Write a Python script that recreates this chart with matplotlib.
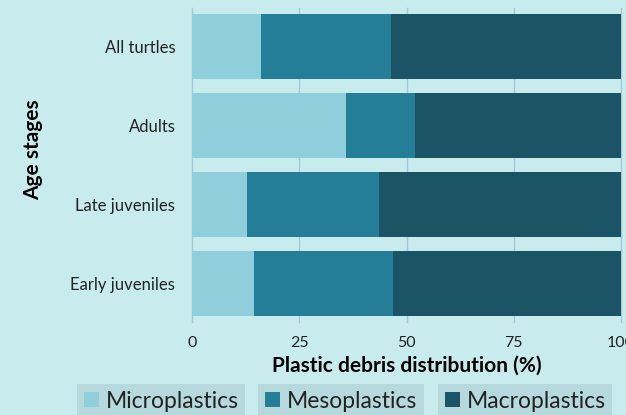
import matplotlib
matplotlib.use("Agg")
import matplotlib.pyplot as plt
from matplotlib.patches import Patch

categories = ["Early juveniles", "Late juveniles", "Adults", "All turtles"]
micro = [14.5, 12.9, 36.0, 16.1]
meso = [32.3, 30.7, 15.9, 30.4]
macro = [53.2, 56.4, 48.1, 53.5]
series_names = ["Microplastics", "Mesoplastics", "Macroplastics"]
colors = ["#8fcedb", "#257e97", "#1b5565"]
xticks = [0, 25, 50, 75, 100]

bg = "#c8ebee"
plt.rcParams['font.family'] = ['Lato', 'DejaVu Sans']

fig = plt.figure(figsize=(6.26, 4.15), dpi=100, facecolor=bg)
ax = fig.add_axes([192/626, 1-322/415, (621-192)/626, (322-8)/415])
ax.set_facecolor(bg)

y = list(range(len(categories)))
left = [0]*len(categories)
for vals, c, name in zip([micro, meso, macro], colors, series_names):
    ax.barh(y, vals, left=left, height=0.82, color=c, zorder=2, label=name)
    left = [l + v for l, v in zip(left, vals)]

for xt in xticks:
    ax.axvline(xt, color="#a6c6da", lw=1.0, zorder=1, clip_on=False)

ax.set_xlim(0, 100)
ax.set_ylim(-0.49, 3.49)
ax.set_xticks(xticks)
ax.set_xticklabels([str(v) for v in xticks])
ax.set_yticks(y)
ax.set_yticklabels(categories)
ax.tick_params(axis='x', length=0, pad=10, labelsize=11.5, labelcolor="#222222")
ax.tick_params(axis='y', length=0, pad=12, labelsize=12, labelcolor="#222222")
for s in ax.spines.values():
    s.set_visible(False)

ax.set_xlabel("Plastic debris distribution (%)", fontsize=15, fontweight='bold', labelpad=4)
fig.text(33/626, 1-150/415, "Age stages", rotation=90, fontsize=15, fontweight='bold',
         ha='center', va='center')

centers = [161, 341, 525]
for name, c, cx in zip(series_names, colors, centers):
    leg = fig.legend(handles=[Patch(facecolor=c, edgecolor='none')], labels=[name],
                     loc='upper center', bbox_to_anchor=(cx/626, 1-384/415),
                     fontsize=16.5, frameon=True, fancybox=False, framealpha=1,
                     handlelength=0.65, handleheight=0.65, handletextpad=0.3,
                     borderpad=0.3, borderaxespad=0)
    leg.get_frame().set_facecolor("#b6d9dd")
    leg.get_frame().set_edgecolor("none")
    for t in leg.get_texts():
        t.set_color("#222222")

fig.savefig("out.png", dpi=100, facecolor=bg)
